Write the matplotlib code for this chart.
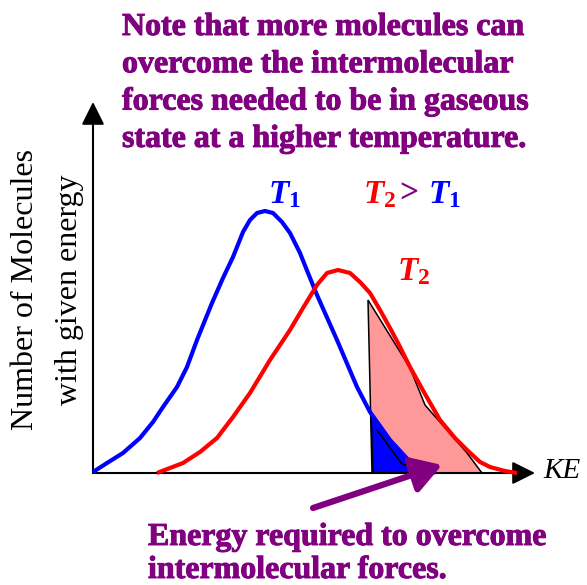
import matplotlib
matplotlib.use("Agg")
import matplotlib.pyplot as plt
import matplotlib.patheffects as pe

plt.rcParams.update({
    "font.family": "Liberation Serif",
    "mathtext.fontset": "custom",
    "mathtext.rm": "Liberation Serif",
    "mathtext.bf": "Liberation Serif:bold",
    "mathtext.it": "Liberation Serif:italic",
    "mathtext.bfit": "Liberation Serif:bold:italic",
})

PURPLE = "#800080"

# energy distribution curves (KE on x, number of molecules on y)
t1_ke = [0, 14, 30, 47, 60, 70, 84, 94, 104, 119, 130, 140, 150, 157, 164, 172, 180, 189, 197,
         207, 215, 224, 244, 264, 277, 297, 320, 342]
t1_n = [1, 10, 20, 35, 51, 66, 86, 106, 133, 170, 195, 216, 241, 253, 260, 262, 260, 251, 240,
        220, 200, 178, 133, 86, 61, 33, 8, 0]

t2_ke = [64, 77, 90, 107, 124, 140, 157, 177, 197, 210, 224, 234, 245, 257, 267, 277, 287, 297,
         305, 317, 332, 347, 362, 374, 387, 397, 412, 424]
t2_n = [0, 5, 10, 21, 35, 56, 80, 113, 143, 165, 188, 200, 203, 200, 191, 180, 163, 145,
        130, 106, 79, 53, 35, 23, 11, 6, 2, 0]

# shaded regions beyond the energy threshold
hot_t2_ke = [275, 317, 332, 374, 389, 279]
hot_t2_n = [173, 105, 68, 20, 0, 0]
hot_t1_ke = [278, 297, 320, 342, 280]
hot_t1_n = [61, 33, 8, 0, 0]
inner_ke = [284, 309, 322]
inner_n = [43, 9, 5]

title_lines = [
    "Note that more molecules can",
    "overcome the intermolecular",
    "forces needed to be in gaseous",
    "state at a higher temperature.",
]
note_lines = ["Energy required to overcome", "intermolecular forces."]
ylabel_lines = ["Number of Molecules", "with given energy"]

fig = plt.figure(figsize=(5.87, 5.85), dpi=100)
ax = fig.add_axes([0, 0, 1, 1])
ax.set_xlim(-93, 494)
ax.set_ylim(-112, 473)
ax.axis("off")

# axes with arrow heads
axis_style = dict(arrowstyle="-|>,head_length=0.7,head_width=0.35", mutation_scale=20,
                  lw=1.5, color="black", shrinkA=0, shrinkB=0)
ax.annotate("", xy=(0, 371), xytext=(0, 0), arrowprops=axis_style)
ax.annotate("", xy=(442, 0), xytext=(0, 0), arrowprops=axis_style)

ax.fill(hot_t2_ke, hot_t2_n, facecolor="#ff9999", edgecolor="black", lw=1.1, zorder=1)
ax.fill(hot_t1_ke, hot_t1_n, facecolor="#0000ff", edgecolor="none", zorder=2)
ax.plot([hot_t1_ke[0], hot_t1_ke[-1]], [hot_t1_n[0], hot_t1_n[-1]], color="black", lw=1.1, zorder=2)
ax.plot(inner_ke, inner_n, color="black", lw=1.1, zorder=2)

ax.plot(t1_ke, t1_n, color="#0000ff", lw=3, solid_capstyle="butt", solid_joinstyle="round", zorder=3)
ax.plot(t2_ke, t2_n, color="#ff0000", lw=3, solid_capstyle="butt", solid_joinstyle="round", zorder=3)

ax.annotate("", xy=(349, 8), xytext=(220, -35),
            arrowprops=dict(arrowstyle="-|>,head_length=0.9,head_width=0.55", mutation_scale=20,
                            lw=4.5, color=PURPLE, shrinkA=0, shrinkB=0), zorder=4)

# labels
ax.text(175, 270, r"$\mathbfit{T}_{\mathbf{1}}$", color="#0000ff", fontsize=24, va="baseline")
ax.text(304, 193, r"$\mathbfit{T}_{\mathbf{2}}$", color="#ff0000", fontsize=24, va="baseline")
ax.text(270, 270, r"$\mathbfit{T}_{\mathbf{2}}$", color="#ff0000", fontsize=24, va="baseline")
ax.text(306, 270, ">", color=PURPLE, fontsize=24, fontweight="bold", va="baseline")
ax.text(335, 270, r"$\mathbfit{T}_{\mathbf{1}}$", color="#0000ff", fontsize=24, va="baseline")
ax.text(450, -5, "KE", fontsize=21, style="italic", va="baseline")

heavy = [pe.withStroke(linewidth=0.7, foreground=PURPLE)]
for i, line in enumerate(title_lines):
    ax.text(29, 438 - i * 37.3, line, color=PURPLE, fontsize=23, fontweight="bold",
            va="baseline", path_effects=heavy)
for i, line in enumerate(note_lines):
    ax.text(55, -72 - i * 33, line, color=PURPLE, fontsize=23, fontweight="bold",
            va="baseline", path_effects=heavy)
for i, line in enumerate(ylabel_lines):
    ax.text(-67 + i * 43, 183, line, fontsize=23, rotation=90, ha="center", va="center")

fig.savefig("out.png", dpi=100)
